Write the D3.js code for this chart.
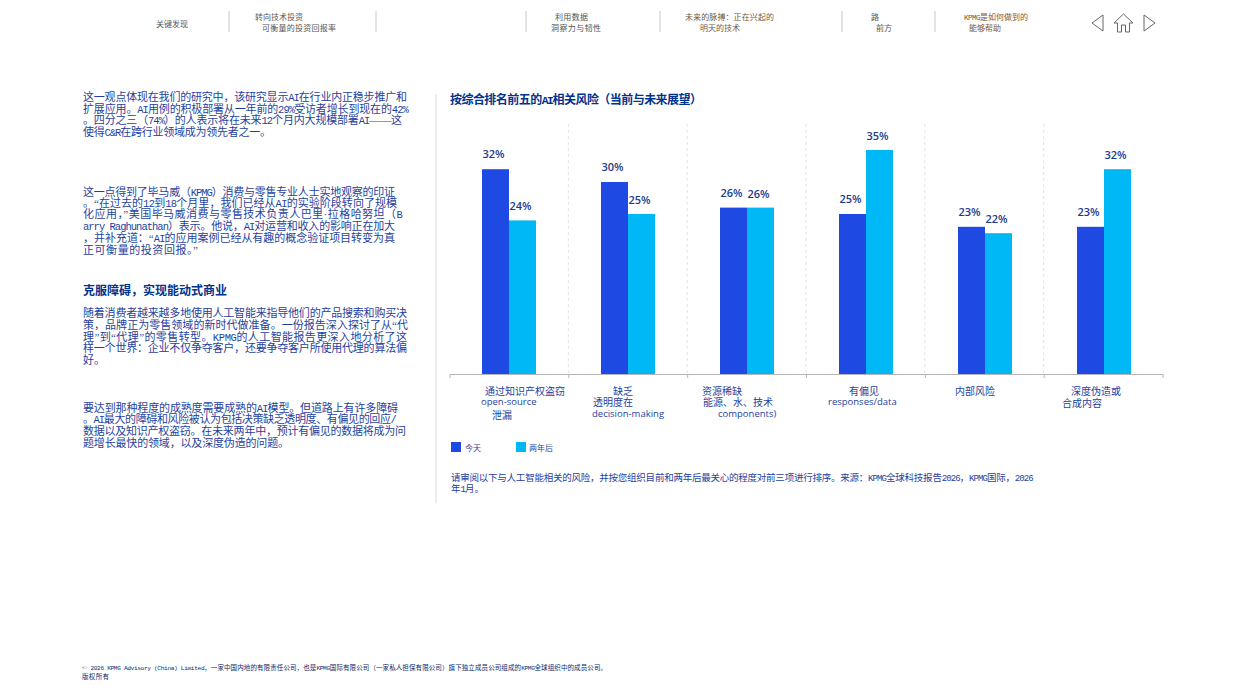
<!DOCTYPE html>
<html><head><meta charset="utf-8">
<script src="https://cdn.jsdelivr.net/npm/d3@7/dist/d3.min.js"></script>
<style>
html,body{margin:0;padding:0;background:#fff}
svg{display:block}
text{font-family:"Liberation Serif","Noto Sans CJK SC",serif}
.sans{font-family:"Open Sans","Noto Sans CJK SC",sans-serif}
</style></head><body><svg id="c" width="1240" height="697"></svg>
<script>
const categories=[
 ["通过知识产权盗窃","open-source","泄漏"],
 ["缺乏","透明度在","decision-making"],
 ["资源稀缺","能源、水、技术","components)"],
 ["有偏见","responses/data"],
 ["内部风险"],
 ["深度伪造或","合成内容"]];
const today=[32,30,26,25,23,23];
const twoYears=[24,25,26,35,22,32];
const seriesNames=["今天","两年后"];
const chartTitle="按综合排名前五的AI相关风险（当前与未来展望）";
const note=["请审阅以下与人工智能相关的风险，并按您组织目前和两年后最关心的程度对前三项进行排序。来源：KPMG全球科技报告2026，KPMG国际，2026","年1月。"];
const para1=["这一观点体现在我们的研究中，该研究显示AI在行业内正稳步推广和","扩展应用。AI用例的积极部署从一年前的29%受访者增长到现在的42%","。四分之三（74%）的人表示将在未来12个月内大规模部署AI——这","使得C&R在跨行业领域成为领先者之一。"];
const para2=["这一点得到了毕马威（KPMG）消费与零售专业人士实地观察的印证","。“在过去的12到18个月里，我们已经从AI的实验阶段转向了规模","化应用，”美国毕马威消费与零售技术负责人巴里·拉格哈努坦（B","arry Raghunathan）表示。他说，AI对运营和收入的影响正在加大","，并补充道：“AI的应用案例已经从有趣的概念验证项目转变为真","正可衡量的投资回报。”"];
const heading="克服障碍，实现能动式商业";
const para3=["随着消费者越来越多地使用人工智能来指导他们的产品搜索和购买决","策，品牌正为零售领域的新时代做准备。一份报告深入探讨了从“代","理”到“代理”的零售转型。KPMG的人工智能报告更深入地分析了这","样一个世界：企业不仅争夺客户，还要争夺客户所使用代理的算法偏","好。"];
const para4=["要达到那种程度的成熟度需要成熟的AI模型。但道路上有许多障碍","。AI最大的障碍和风险被认为包括决策缺乏透明度、有偏见的回应/","数据以及知识产权盗窃。在未来两年中，预计有偏见的数据将成为问","题增长最快的领域，以及深度伪造的问题。"];
const navItems=[["关键发现"],["转向技术投资","可衡量的投资回报率"],["利用数据","洞察力与韧性"],["未来的脉搏：正在兴起的","明天的技术"],["路","前方"],["KPMG是如何做到的","能够帮助"]];
const footer=["© 2026 KPMG Advisory (China) Limited，一家中国内地的有限责任公司，也是KPMG国际有限公司（一家私人担保有限公司）旗下独立成员公司组成的KPMG全球组织中的成员公司。","版权所有"];

// layout
const navX=[[156],[255,262],[555,551],[685,700],[871,876],[964,969]];
const navEnd=[[188],[303,336],[588,601],[774,740],[879,892],[1028,1001]];
const navSep=[229,376,526,660,842,935];
const catDx=[[35,31,42],[44,24,23],[14,15,30],[42,21],[29],[26,17]];
const catY=[[394.5,405,418.5],[394.5,406,417],[394.5,406,417],[394.5,405],[394.5],[394.5,406.5]];
const svg=d3.select("#c");
const NAVY="#00338D",BODY="#1f3f9e",C1="#1E49E2",C2="#00B8F5";

// ASCII runs are half-width; the rest falls through to the CJK font
function fillRuns(sel,size){
 sel.each(function(d){
  const t=d3.select(this);
  d.split(/([\x20-\x7e]+)/).filter(s=>s).forEach(s=>{
   const ts=t.append("tspan").text(s).attr("xml:space","preserve");
   if(/^[\x20-\x7e]+$/.test(s)) ts.style("font-family",'"Liberation Mono"').attr("font-size",size*0.95).style("letter-spacing",(-0.07*size)+"px");
  });
 });
}
function lines(arr,xs,ys,ends,o={}){
 const size=o.size||11;
 const xOf=i=>Array.isArray(xs)?xs[i]:xs;
 const sel=svg.append("g").selectAll("text").data(arr).join("text")
  .attr("x",(d,i)=>xOf(i)).attr("y",(d,i)=>ys[i])
  .attr("textLength",(d,i)=>ends[i]-xOf(i)).attr("lengthAdjust","spacing")
  .attr("font-size",size).attr("fill",o.fill||BODY).attr("font-weight",o.weight||400);
 fillRuns(sel,size);
}
// nav
const navCol=["#555","#555","#555","#6b5a45","#555","#7a5a35"];
navItems.forEach((it,i)=>lines(it,navX[i],it.length===1?[27]:[20,31],navEnd[i],{size:8,fill:navCol[i]}));
svg.append("g").selectAll("line").data(navSep).join("line").attr("x1",d=>d).attr("x2",d=>d).attr("y1",11).attr("y2",32).attr("stroke","#c8c8c8").attr("stroke-width",1);
const icon="#666";
svg.append("path").attr("d","M1103 15L1092 23L1103 31Z").attr("fill","none").attr("stroke",icon);
svg.append("path").attr("d","M1144 15L1155 23L1144 31Z").attr("fill","none").attr("stroke",icon);
svg.append("path").attr("d","M1114 23L1123.5 14L1133 23L1129.5 23L1129.5 32L1125.5 32L1125.5 25L1121.5 25L1121.5 32L1117.5 32L1117.5 23Z").attr("fill","none").attr("stroke",icon);

// left text
lines(para1,83,[101,112.5,124,136],[407,408,402,271]);
lines(para2,83,[195.5,207,218,230,242,254],[395,397,402,395,395,198]);
lines([heading],83,[295],[227],{size:12,weight:700,fill:NAVY});
lines(para3,83,[317,329,340.5,352,364],[407,408,407,407,105]);
lines(para4,83,[412,423,435,446.5],[398,396,406,289]);
svg.append("line").attr("x1",436).attr("x2",436).attr("y1",94).attr("y2",503).attr("stroke","#ddd");

// chart
lines([chartTitle],450,[104],[702],{size:12,weight:700,fill:NAVY});
const x=d3.scaleBand().domain(d3.range(categories.length)).range([450,1164]);
const edge=d3.scaleLinear().domain([0,categories.length]).range([449.5,1162.5]);
const y=d3.scaleLinear().domain([0,40]).range([374,118]);
const barW=27,off=32;
svg.append("g").selectAll("line").data(d3.range(1,6)).join("line")
 .attr("x1",d=>edge(d)).attr("x2",d=>edge(d)).attr("y1",124).attr("y2",374)
 .attr("stroke","#e3e3e3").attr("stroke-dasharray","3 3");
[[today,C1,0],[twoYears,C2,1]].forEach(([vals,c,k])=>{
 svg.append("g").selectAll("rect").data(vals).join("rect")
  .attr("x",(d,i)=>x(i)+off+k*barW).attr("width",barW)
  .attr("y",d=>y(d)).attr("height",d=>y(0)-y(d)).attr("fill",c);
 svg.append("g").selectAll("text").data(vals).join("text").attr("class","sans")
  .attr("x",(d,i)=>x(i)+off+k*barW+barW/2-2).attr("y",d=>y(d)-(k?10:11))
  .attr("text-anchor","middle").attr("font-size",11).attr("font-weight",600).attr("fill","#1a3a8f")
  .text(d=>d+"%");
});
const axis=d3.axisBottom(edge).tickValues(d3.range(0,7)).tickFormat("").tickSize(4).tickSizeOuter(0);
const ag=svg.append("g").attr("transform","translate(0,374)").call(axis);
ag.selectAll("path,line").attr("stroke","#b5b5b5");
categories.forEach((ls,i)=>ls.forEach((t,j)=>{
 const latin=/^[\x00-\x7f]+$/.test(t);
 svg.append("text").attr("x",x(i)+catDx[i][j]).attr("y",catY[i][j])
  .attr("font-size",latin?9.5:10).attr("fill",BODY).attr("font-weight",latin?500:400)
  .style("font-family",latin?'"Open Sans"':'"Liberation Serif","Noto Sans CJK SC"').text(t);
}));
// legend
const lx=[451,516];
svg.append("g").selectAll("rect").data(seriesNames).join("rect").attr("x",(d,i)=>lx[i]).attr("y",442).attr("width",10).attr("height",10).attr("fill",(d,i)=>[C1,C2][i]);
svg.append("g").selectAll("text").data(seriesNames).join("text").attr("x",(d,i)=>lx[i]+(i?13:14)).attr("y",451).attr("font-size",8).attr("fill",BODY).text(d=>d);
lines(note,451,[481,492],[1033,484],{size:9.5});
lines(footer,82,[669.5,679],[607,109],{size:6.5,fill:"#0b2a6b"});
</script></body></html>
